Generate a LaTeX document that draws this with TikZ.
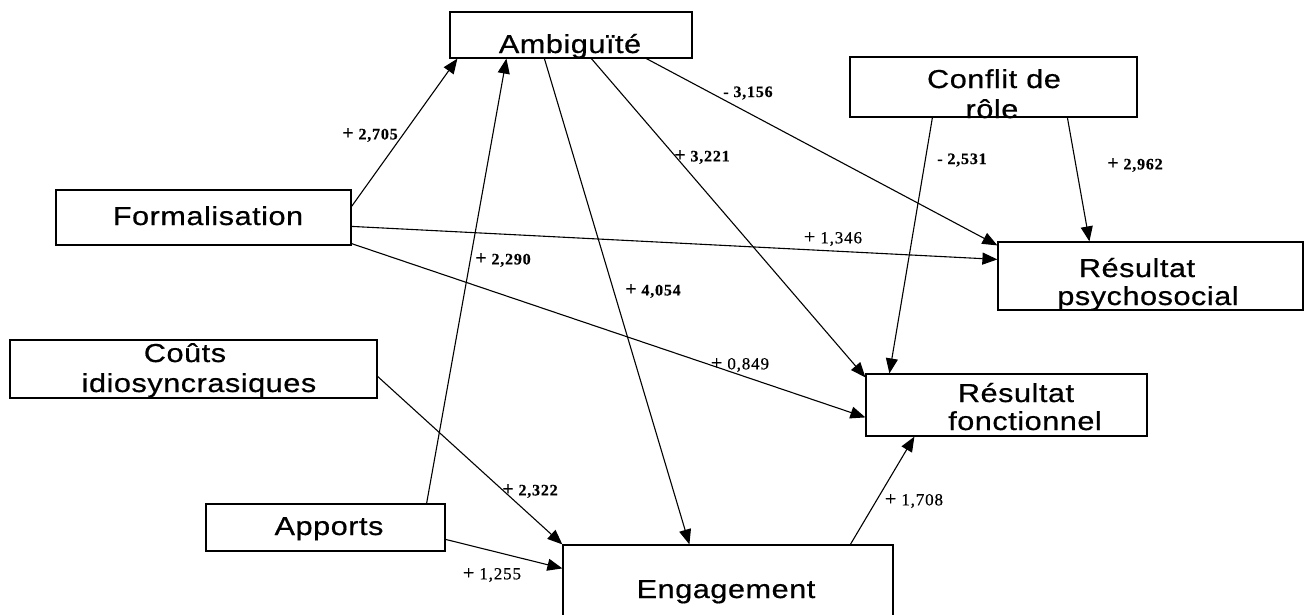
\documentclass[tikz,border=0pt]{standalone}
\usepackage{fontspec}
\usetikzlibrary{arrows.meta,calc}
\newfontfamily\boxfont[FakeStretch=1.18,LetterSpace=2,FakeBold=0.6]{Liberation Sans}
\newfontfamily\numfont[LetterSpace=5,FakeBold=0.4]{Liberation Serif}
% a slightly larger plus sign in front of the coefficients
\newcommand{\plusmark}{{\fontsize{20}{20}\selectfont +}}
\tikzset{
  box/.style={draw=black, line width=1.2pt, fill=none, inner sep=0pt},
  boxtext/.style={anchor=base, inner sep=0pt, font=\boxfont\fontsize{26}{28}\selectfont},
  link/.style={draw=black, line width=1.1pt, -{Triangle[length=15pt,width=12pt]}},
  coefb/.style={inner sep=0pt, font=\numfont\bfseries\fontsize{16}{18}\selectfont},
  coefr/.style={inner sep=0pt, font=\numfont\fontsize{17}{19}\selectfont}
}
\begin{document}
\begin{tikzpicture}[x=1pt,y=-1pt]
\useasboundingbox (0,0) rectangle (1309,614);
\clip (0,0) rectangle (1309,614);

% variable boxes
\node[box, minimum width=242pt, minimum height=46pt] (amb)  at (571,35) {};
\node[box, minimum width=287pt, minimum height=60pt] (conf) at (993.5,87) {};
\node[box, minimum width=295pt, minimum height=55pt] (form) at (203.5,217.5) {};
\node[box, minimum width=305pt, minimum height=68pt] (psy)  at (1150.5,276) {};
\node[box, minimum width=281pt, minimum height=62pt] (fonc) at (1006.5,405) {};
\node[box, minimum width=367pt, minimum height=58pt] (cout) at (193.5,369) {};
\node[box, minimum width=239pt, minimum height=47pt] (app)  at (325.5,527.5) {};
\node[box, minimum width=330pt, minimum height=95pt] (eng)  at (728,592.5) {};

% box captions
\node[boxtext] (amb-t)   at (570,53)   {Ambiguïté};
\node[boxtext] (conf-t1) at (994,88)   {Conflit de};
\node[boxtext] (conf-t2) at (992,118)  {rôle};
\node[boxtext] (form-t)  at (208,225)  {Formalisation};
\node[boxtext] (psy-t1)  at (1137,277) {Résultat};
\node[boxtext] (psy-t2)  at (1148,305) {psychosocial};
\node[boxtext] (fonc-t1) at (1016,402) {Résultat};
\node[boxtext] (fonc-t2) at (1025,430) {fonctionnel};
\node[boxtext] (cout-t1) at (185,362)  {Coûts};
\node[boxtext] (cout-t2) at (199,392)  {idiosyncrasiques};
\node[boxtext] (app-t)   at (329,535)  {Apports};
\node[boxtext] (eng-t)   at (726,598)  {Engagement};

% paths
\draw[link] ($(form.north east)+(0,17)$)  -- ($(amb.south west)+(8,0)$);
\draw[link] ($(app.north east)+(-19,0)$)  -- ($(amb.south west)+(57,0)$);
\draw[link] ($(amb.south west)+(95,0)$)   -- ($(eng.north west)+(127,0)$);
\draw[link] ($(amb.south west)+(142,0)$)  -- ($(fonc.north west)+(0,4)$);
\draw[link] ($(amb.south west)+(197,0)$)  -- ($(psy.north west)+(0,4)$);
\draw[link] ($(form.north east)+(0,37)$)  -- ($(psy.north west)+(0,18)$);
\draw[link] ($(form.south east)+(0,-2)$)  -- ($(fonc.north west)+(0,44)$);
\draw[link] ($(conf.south west)+(83,0)$)  -- ($(fonc.north west)+(24,0)$);
\draw[link] ($(conf.south west)+(218,0)$) -- ($(psy.north west)+(92,0)$);
\draw[link] ($(cout.north east)+(0,37)$)  -- (eng.north west);
\draw[link] ($(app.north east)+(0,36)$)   -- ($(eng.north west)+(0,24)$);
\draw[link] ($(eng.north west)+(288,0)$)  -- ($(fonc.south west)+(49,0)$);

% path coefficients
\node[coefb] (c1)  at (370,135)  {\plusmark\ 2,705};
\node[coefb] (c2)  at (503,260)  {\plusmark\ 2,290};
\node[coefb] (c3)  at (653,291)  {\plusmark\ 4,054};
\node[coefb] (c4)  at (702,157)  {\plusmark\ 3,221};
\node[coefb] (c5)  at (748,93)   {- 3,156};
\node[coefr] (c6)  at (833,239)  {\plusmark\ 1,346};
\node[coefr] (c7)  at (740,365)  {\plusmark\ 0,849};
\node[coefb] (c8)  at (962,160)  {- 2,531};
\node[coefb] (c9)  at (1135,165) {\plusmark\ 2,962};
\node[coefb] (c10) at (530,491)  {\plusmark\ 2,322};
\node[coefr] (c11) at (492,575)  {\plusmark\ 1,255};
\node[coefr] (c12) at (914,501)  {\plusmark\ 1,708};
\end{tikzpicture}
\end{document}
